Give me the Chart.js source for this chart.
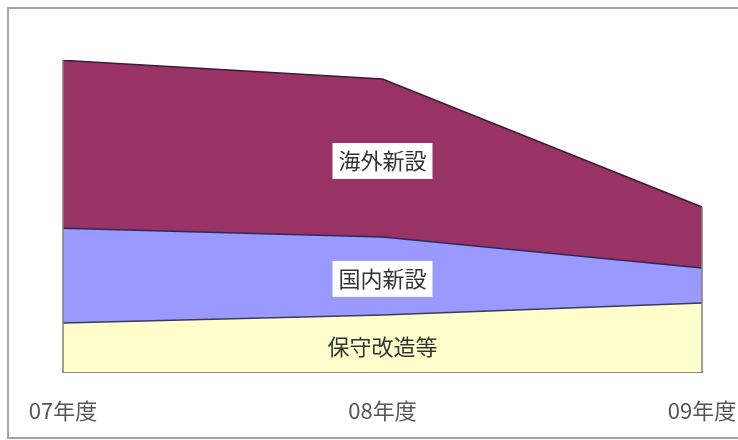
<!DOCTYPE html>
<html>
<head>
<meta charset="utf-8">
<script src="https://cdn.jsdelivr.net/npm/chart.js@4/dist/chart.umd.min.js"></script>
<style>
    body { margin: 0; background: #fff; }
    #wrap { width: 738px; height: 440px; }
</style>
</head>
<body>
<div id="wrap"><canvas id="myChart" width="738" height="440"></canvas></div>
<script>
const labels = ['07年度', '08年度', '09年度'];
const hoshu = [15.7, 18.3, 22.1];     // 保守改造等
const kokunai = [30.4, 25.0, 11.2];   // 国内新設
const kaigai = [53.8, 50.6, 19.6];    // 海外新設
const names = ['保守改造等', '国内新設', '海外新設'];

const jpFont = '"Noto Sans CJK JP", "Noto Sans", sans-serif';

// white page with the grey frame round the chart
const frame = {
    id: 'frame',
    beforeDraw: (chart) => {
        const c = chart.ctx;
        c.save();
        c.fillStyle = '#fff';
        c.fillRect(0, 0, chart.width, chart.height);
        c.strokeStyle = '#a4a4a4';
        c.lineWidth = 2;
        c.beginPath();
        c.moveTo(chart.width, 8);
        c.lineTo(8, 8);
        c.lineTo(8, 438);
        c.lineTo(chart.width, 438);
        c.stroke();
        c.restore();
    },
};

// grey sides of the stacked area, from the baseline up to the top series
const sides = {
    id: 'sides',
    afterDatasetsDraw: (chart) => {
        const c = chart.ctx;
        const top = chart.getDatasetMeta(2).data;
        const base = chart.scales.y.getPixelForValue(0);
        c.save();
        c.strokeStyle = '#808078';
        c.lineWidth = 1.5;
        [0, top.length - 1].forEach((i) => {
            c.beginPath();
            c.moveTo(top[i].x, base);
            c.lineTo(top[i].x, top[i].y);
            c.stroke();
        });
        c.restore();
    },
};

// series names in the middle of each band, over the 08年度 point
const bandLabels = {
    id: 'bandLabels',
    afterDatasetsDraw: (chart) => {
        const c = chart.ctx;
        const y = chart.scales.y;
        const idx = 1;
        let below = 0;
        c.save();
        c.font = '22px ' + jpFont;
        c.textAlign = 'center';
        c.textBaseline = 'middle';
        chart.data.datasets.forEach((ds, i) => {
            const v = ds.data[idx];
            const x = chart.getDatasetMeta(i).data[idx].x;
            const mid = y.getPixelForValue(below + v / 2) + 3;
            below += v;
            const w = c.measureText(names[i]).width + 12;
            if (i > 0) {
                c.fillStyle = '#fff';
                c.fillRect(x - w / 2, mid - 18, w, 36);
            }
            c.fillStyle = '#333';
            c.fillText(names[i], x, mid);
        });
        c.restore();
    },
};

new Chart(document.getElementById('myChart'), {
    type: 'line',
    data: {
        labels: labels,
        datasets: [
            {
                label: names[0],
                data: hoshu,
                backgroundColor: '#ffffcc',
                borderColor: '#3a3a5a',
                borderWidth: 1.5,
                fill: 'origin',
            },
            {
                label: names[1],
                data: kokunai,
                backgroundColor: '#9999ff',
                borderColor: '#2a2a5a',
                borderWidth: 1.5,
                fill: '-1',
            },
            {
                label: names[2],
                data: kaigai,
                backgroundColor: '#993366',
                borderColor: '#3a1a3a',
                borderWidth: 1.5,
                fill: '-1',
            },
        ],
    },
    options: {
        responsive: false,
        animation: false,
        elements: { point: { radius: 0 }, line: { tension: 0 } },
        layout: { padding: { left: 63, right: 36, top: 60, bottom: 8 } },
        plugins: {
            legend: { display: false },
            tooltip: { enabled: false },
        },
        scales: {
            x: {
                offset: false,
                grid: { display: false },
                border: { display: true, color: '#8a8a78', width: 2 },
                ticks: {
                    padding: 17,
                    color: '#555',
                    font: { family: jpFont, size: 22 },
                    maxRotation: 0,
                },
                afterFit: (scale) => {
                    scale.height = 60;
                    scale.paddingLeft = 0;
                    scale.paddingRight = 0;
                },
            },
            y: {
                display: false,
                stacked: true,
                min: 0,
                max: 100,
            },
        },
    },
    plugins: [frame, sides, bandLabels],
});
</script>
</body>
</html>
